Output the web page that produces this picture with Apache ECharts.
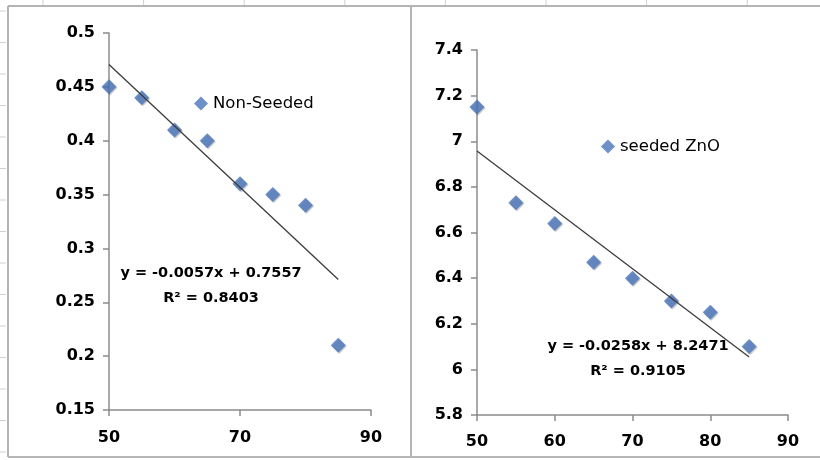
<!DOCTYPE html>
<html>
<head>
<meta charset="utf-8">
<script src="https://cdn.jsdelivr.net/npm/echarts@6/dist/echarts.min.js"></script>
<style>html,body{margin:0;padding:0;background:#fff}#c{width:820px;height:460px}</style>
</head>
<body>
<div id="c"></div>
<script>
// ---- data ----
var xValues = [50, 55, 60, 65, 70, 75, 80, 85];
var nonSeeded = [0.45, 0.44, 0.41, 0.40, 0.36, 0.35, 0.34, 0.21];
var seededZnO = [7.15, 6.73, 6.64, 6.47, 6.40, 6.30, 6.25, 6.10];
var trendLeftX = [50, 85];
var trendLeftY = [0.4707, 0.2712];
var trendRightX = [50, 85];
var trendRightY = [6.9571, 6.0541];
var leftXTicks = [50, 70, 90];
var seriesNames = ['Non-Seeded', 'seeded ZnO'];
var eqLeft = ['y = -0.0057x + 0.7557', 'R\u00b2 = 0.8403'];
var eqRight = ['y = -0.0258x + 8.2471', 'R\u00b2 = 0.9105'];

function pairs(xs, ys) { return xs.map(function (x, i) { return [x, ys[i]]; }); }

var FONT = '"DejaVu Sans"';
var axisLineStyle = { color: '#8c8c8c', width: 1.5 };
var labelStyle = { color: '#000', fontSize: 16, fontWeight: 'bold', fontFamily: 'DejaVu Sans' };
var markerStyle = {
  color: '#4a76bd',
  shadowBlur: 1, shadowColor: 'rgba(0,0,0,0.3)', shadowOffsetX: 1, shadowOffsetY: 1
};

var graphics = [];
var frameColor = '#b4b4b4';
graphics.push({ type: 'line', shape: { x1: 8, y1: 6, x2: 820, y2: 6 }, style: { stroke: frameColor, lineWidth: 2 } });
graphics.push({ type: 'line', shape: { x1: 8, y1: 6, x2: 8, y2: 457 }, style: { stroke: frameColor, lineWidth: 2 } });
graphics.push({ type: 'line', shape: { x1: 411, y1: 6, x2: 411, y2: 457 }, style: { stroke: frameColor, lineWidth: 2 } });
graphics.push({ type: 'line', shape: { x1: 8, y1: 457, x2: 820, y2: 457 }, style: { stroke: frameColor, lineWidth: 2 } });
for (var i = 0; i < 8; i++) {
  var sx = 43 + i * 100.6;
  graphics.push({ type: 'line', shape: { x1: sx, y1: 0, x2: sx, y2: 5 }, style: { stroke: '#d0d0d0', lineWidth: 1 } });
}
for (var j = 0; j < 15; j++) {
  var sy = 11 + j * 31.5;
  graphics.push({ type: 'line', shape: { x1: 0, y1: sy, x2: 6, y2: sy }, style: { stroke: '#d0d0d0', lineWidth: 1 } });
}
function eqText(lines, cx, cy1, cy2) {
  graphics.push({ type: 'text', x: cx, y: cy1, style: { text: lines[0], fill: '#000', font: 'bold 14.5px ' + FONT, textAlign: 'center', textVerticalAlign: 'middle' }, z: 100 });
  graphics.push({ type: 'text', x: cx, y: cy2, style: { text: lines[1], fill: '#000', font: 'bold 14.5px ' + FONT, textAlign: 'center', textVerticalAlign: 'middle' }, z: 100 });
}
eqText(eqLeft, 211, 273, 298);
eqText(eqRight, 638, 346, 371);

var legendText = { color: '#000', fontSize: 16.5, fontFamily: 'DejaVu Sans' };
var option = {
  animation: false,
  backgroundColor: '#fff',
  graphic: graphics,
  legend: [
    { data: [seriesNames[0]], left: 189, top: 90, itemWidth: 14, itemHeight: 14, icon: 'diamond',
      textStyle: legendText, itemStyle: { color: '#4a76bd' } },
    { data: [seriesNames[1]], left: 596, top: 133, itemWidth: 14, itemHeight: 14, icon: 'diamond',
      textStyle: legendText, itemStyle: { color: '#4a76bd' } }
  ],
  grid: [
    { left: 109, top: 33, right: 449, bottom: 50 },
    { left: 477, top: 50, right: 32, bottom: 45 }
  ],
  xAxis: [
    { type: 'value', gridIndex: 0, min: 50, max: 90, interval: 10,
      axisLine: { show: true, lineStyle: axisLineStyle },
      axisTick: { show: true, length: 6, lineStyle: axisLineStyle, customValues: leftXTicks },
      axisLabel: Object.assign({ margin: 20, customValues: leftXTicks }, labelStyle),
      splitLine: { show: false } },
    { type: 'value', gridIndex: 1, min: 50, max: 90, interval: 10,
      axisLine: { show: true, lineStyle: axisLineStyle },
      axisTick: { show: true, length: 6, lineStyle: axisLineStyle },
      axisLabel: Object.assign({ margin: 19 }, labelStyle),
      splitLine: { show: false } }
  ],
  yAxis: [
    { type: 'value', gridIndex: 0, min: 0.15, max: 0.5, interval: 0.05,
      axisLine: { show: true, lineStyle: axisLineStyle },
      axisTick: { show: true, length: 6, lineStyle: axisLineStyle },
      axisLabel: Object.assign({ margin: 14, formatter: function (v) { return String(+v.toFixed(2)); } }, labelStyle),
      splitLine: { show: false } },
    { type: 'value', gridIndex: 1, min: 5.8, max: 7.4, interval: 0.2,
      axisLine: { show: true, lineStyle: axisLineStyle },
      axisTick: { show: true, length: 6, lineStyle: axisLineStyle },
      axisLabel: Object.assign({ margin: 14, formatter: function (v) { return String(+v.toFixed(1)); } }, labelStyle),
      splitLine: { show: false } }
  ],
  series: [
    { name: seriesNames[0], type: 'scatter', xAxisIndex: 0, yAxisIndex: 0, symbol: 'diamond', symbolSize: 15,
      itemStyle: markerStyle, data: pairs(xValues, nonSeeded), z: 2 },
    { name: 'trendLeft', type: 'line', xAxisIndex: 0, yAxisIndex: 0, symbol: 'none',
      lineStyle: { color: '#3c3c3c', width: 1.3 }, data: pairs(trendLeftX, trendLeftY), z: 3 },
    { name: seriesNames[1], type: 'scatter', xAxisIndex: 1, yAxisIndex: 1, symbol: 'diamond', symbolSize: 15,
      itemStyle: markerStyle, data: pairs(xValues, seededZnO), z: 2 },
    { name: 'trendRight', type: 'line', xAxisIndex: 1, yAxisIndex: 1, symbol: 'none',
      lineStyle: { color: '#3c3c3c', width: 1.3 }, data: pairs(trendRightX, trendRightY), z: 3 }
  ]
};
echarts.init(document.getElementById('c')).setOption(option);
</script>
</body>
</html>
